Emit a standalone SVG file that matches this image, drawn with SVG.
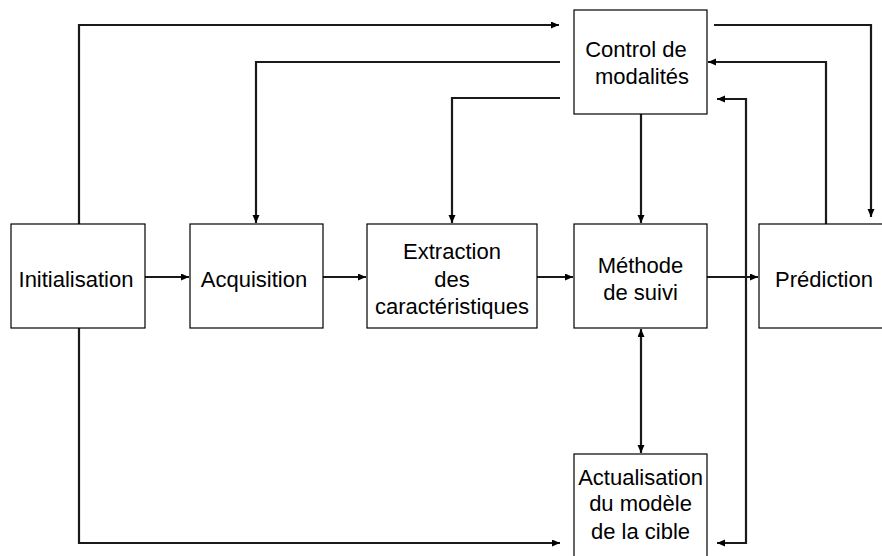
<svg xmlns="http://www.w3.org/2000/svg" width="882" height="556" viewBox="0 0 882 556">
  <style>
    .box { fill: #fff; stroke: #000; stroke-width: 1.2; }
    .lbl { font-family: "Liberation Sans", Arial, sans-serif; font-size: 22px; fill: #000; text-anchor: middle; }
    .conn { fill: none; stroke: #1a1a1a; stroke-width: 2.2; }
  </style>
  <defs>
    <marker id="arr" markerUnits="userSpaceOnUse" markerWidth="9" markerHeight="8" refX="8" refY="3.5" orient="auto-start-reverse">
      <path d="M0,0 L8,3.5 L0,7 z" fill="#000"/>
    </marker>
  </defs>
  <rect width="882" height="556" fill="#fff"/>

  <g id="connectors">
    <path class="conn" d="M79 224 V25 H559" marker-end="url(#arr)"/>
    <path class="conn" d="M560 62 H256 V223" marker-end="url(#arr)"/>
    <path class="conn" d="M560 98 H452 V223" marker-end="url(#arr)"/>
    <path class="conn" d="M641 114 V223" marker-end="url(#arr)"/>
    <path class="conn" d="M714 25 H871 V217" marker-end="url(#arr)"/>
    <path class="conn" d="M826 224 V62 H708" marker-end="url(#arr)"/>
    <path class="conn" d="M717 543 H746 V99 H717" marker-start="url(#arr)" marker-end="url(#arr)"/>
    <path class="conn" d="M641 329 V453" marker-start="url(#arr)" marker-end="url(#arr)"/>
    <path class="conn" d="M79 328 V543 H560" marker-end="url(#arr)"/>
    <path class="conn" d="M145 277 H189" marker-end="url(#arr)"/>
    <path class="conn" d="M323 277 H366" marker-end="url(#arr)"/>
    <path class="conn" d="M537 277 H573" marker-end="url(#arr)"/>
    <path class="conn" d="M707 277 H758" marker-end="url(#arr)"/>
  </g>

  <g id="initialisation">
    <rect class="box" x="11" y="224" width="134" height="104"/>
    <text class="lbl" x="76" y="287">Initialisation</text>
  </g>
  <g id="acquisition">
    <rect class="box" x="190" y="224" width="133" height="104"/>
    <text class="lbl" x="254" y="287">Acquisition</text>
  </g>
  <g id="extraction">
    <rect class="box" x="367" y="224" width="170" height="104"/>
    <text class="lbl" x="452" y="259">Extraction</text>
    <text class="lbl" x="452" y="286.5">des</text>
    <text class="lbl" x="452" y="313.5">caractéristiques</text>
  </g>
  <g id="methode">
    <rect class="box" x="574" y="224" width="133" height="104"/>
    <text class="lbl" x="640.5" y="273">Méthode</text>
    <text class="lbl" x="640.5" y="300">de suivi</text>
  </g>
  <g id="prediction">
    <rect class="box" x="759" y="224" width="134" height="104"/>
    <text class="lbl" x="824" y="287">Prédiction</text>
  </g>
  <g id="control">
    <rect class="box" x="574" y="10" width="133" height="104"/>
    <text class="lbl" x="636" y="57">Control de</text>
    <text class="lbl" x="642" y="83.5">modalités</text>
  </g>
  <g id="actualisation">
    <rect class="box" x="574" y="454" width="133" height="115"/>
    <text class="lbl" x="640.5" y="484.5">Actualisation</text>
    <text class="lbl" x="640.5" y="511">du modèle</text>
    <text class="lbl" x="640.5" y="538.5">de la cible</text>
  </g>
</svg>
